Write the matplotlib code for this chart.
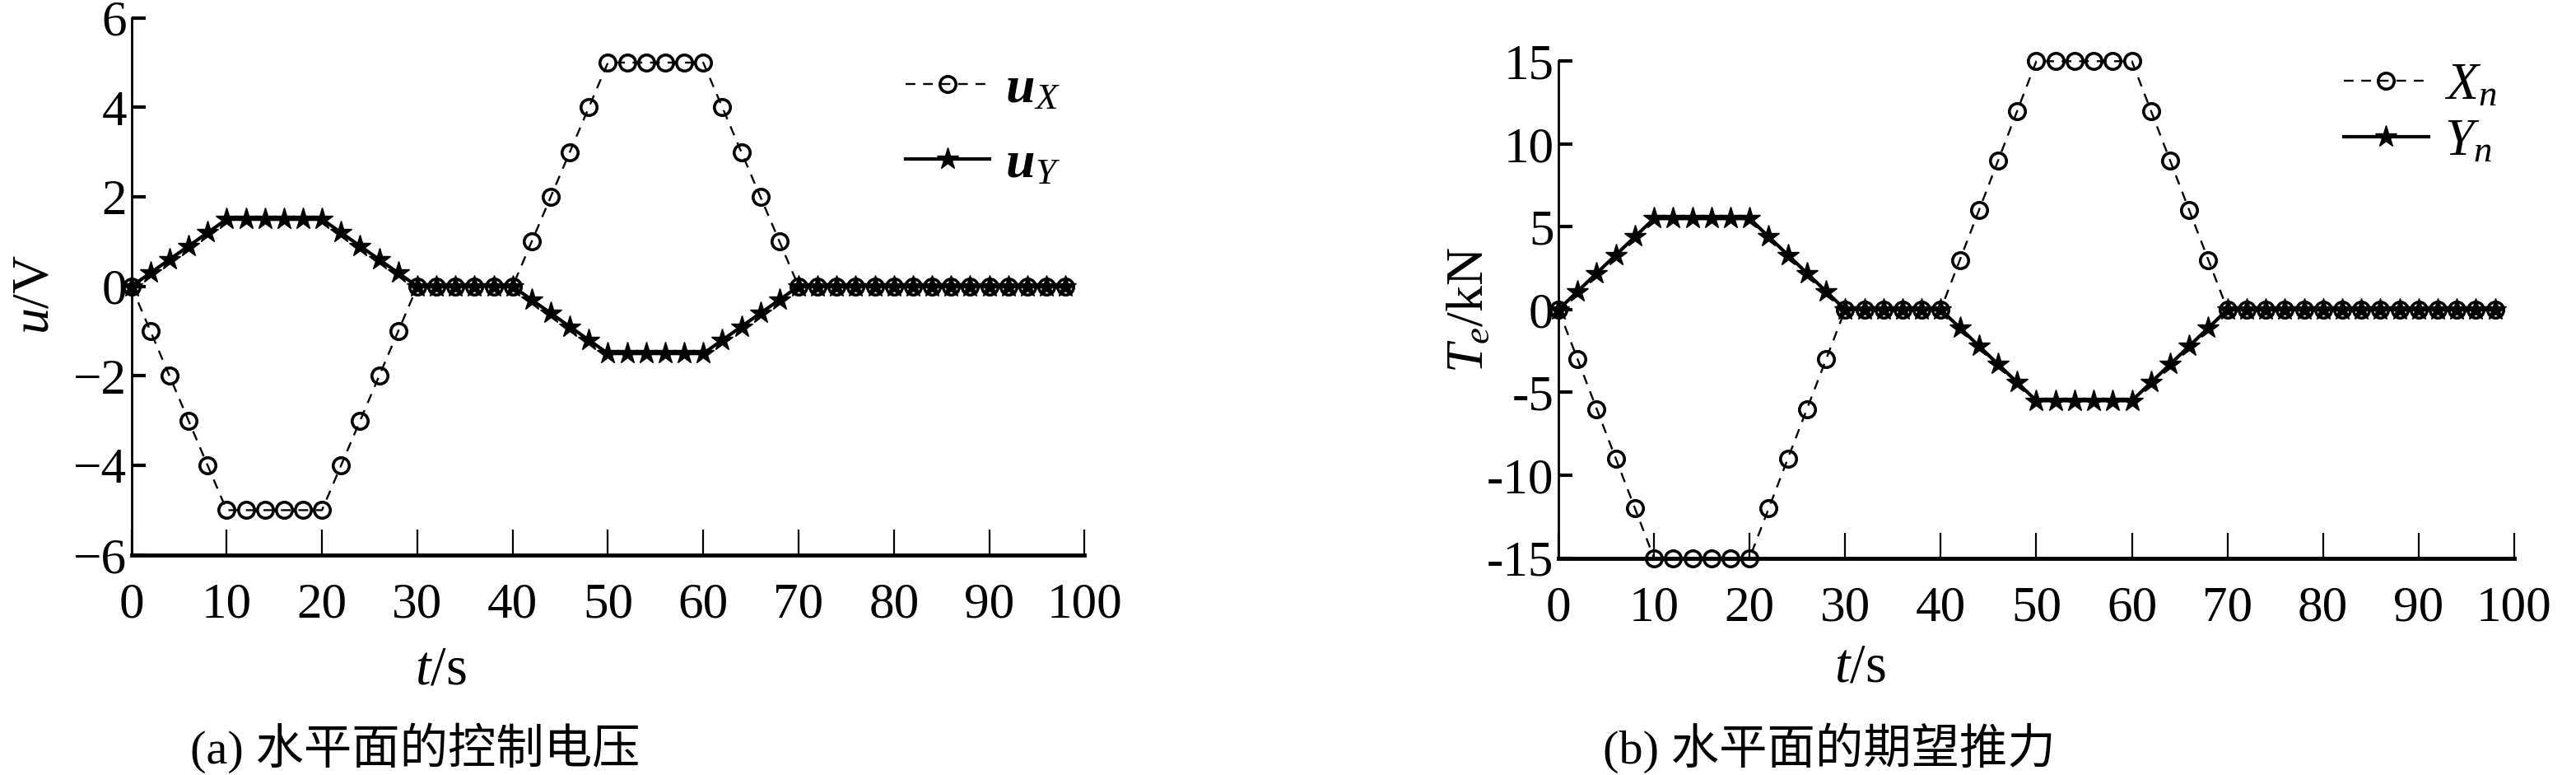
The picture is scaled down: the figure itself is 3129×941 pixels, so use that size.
import numpy as np
import matplotlib
matplotlib.use("Agg")
import matplotlib.pyplot as plt

plt.rcParams['font.family'] = ['Liberation Serif', 'Noto Sans CJK SC']
plt.rcParams['mathtext.fontset'] = 'custom'
plt.rcParams['mathtext.rm'] = 'Liberation Serif'
plt.rcParams['mathtext.it'] = 'Liberation Serif:italic'
plt.rcParams['mathtext.bf'] = 'Liberation Serif:bold:italic'

# time axis, one sample every 2 s
t = list(range(0, 100, 2))

# (a) control voltage, V
u_x = [0, -1, -2, -3, -4, -5, -5, -5, -5, -5, -5, -4, -3, -2, -1,
       0, 0, 0, 0, 0, 0, 1, 2, 3, 4, 5, 5, 5, 5, 5, 5, 4, 3, 2, 1,
       0, 0, 0, 0, 0, 0, 0, 0, 0, 0, 0, 0, 0, 0, 0]
u_y = [0, 0.3, 0.6, 0.9, 1.2, 1.5, 1.5, 1.5, 1.5, 1.5, 1.5, 1.2, 0.9, 0.6, 0.3,
       0, 0, 0, 0, 0, 0, -0.3, -0.6, -0.9, -1.2, -1.5, -1.5, -1.5, -1.5, -1.5, -1.5,
       -1.2, -0.9, -0.6, -0.3, 0, 0, 0, 0, 0, 0, 0, 0, 0, 0, 0, 0, 0, 0, 0]

# (b) desired thrust, kN
x_n = [0, -3, -6, -9, -12, -15, -15, -15, -15, -15, -15, -12, -9, -6, -3,
       0, 0, 0, 0, 0, 0, 3, 6, 9, 12, 15, 15, 15, 15, 15, 15, 12, 9, 6, 3,
       0, 0, 0, 0, 0, 0, 0, 0, 0, 0, 0, 0, 0, 0, 0]
y_n = [0, 1.1, 2.2, 3.3, 4.4, 5.5, 5.5, 5.5, 5.5, 5.5, 5.5, 4.4, 3.3, 2.2, 1.1,
       0, 0, 0, 0, 0, 0, -1.1, -2.2, -3.3, -4.4, -5.5, -5.5, -5.5, -5.5, -5.5, -5.5,
       -4.4, -3.3, -2.2, -1.1, 0, 0, 0, 0, 0, 0, 0, 0, 0, 0, 0, 0, 0, 0, 0]

xticks = list(range(0, 101, 10))
yticks_a = list(range(-6, 7, 2))
yticks_b = list(range(-15, 16, 5))

fig = plt.figure(figsize=(31.29, 9.41), dpi=100)
ax1 = fig.add_axes([0.051, 0.284, 0.370, 0.693])
ax2 = fig.add_axes([0.605, 0.280, 0.371, 0.641])


def style(ax, yticks, minus):
    ax.set_xlim(0, 100)
    ax.set_ylim(yticks[0], yticks[-1])
    ax.set_xticks(xticks)
    ax.set_yticks(yticks)
    ax.set_yticklabels([str(v).replace('-', minus) for v in yticks])
    ax.spines['top'].set_visible(False)
    ax.spines['right'].set_visible(False)
    ax.spines['bottom'].set_linewidth(3.5)
    ax.spines['left'].set_linewidth(2)
    ax.tick_params(axis='x', direction='in', length=22, width=1.6, labelsize=44, pad=24)
    ax.tick_params(axis='y', direction='in', length=12, width=3, labelsize=44, pad=4)


def draw(ax, a, b, la, lb):
    ax.plot(t, a, '--', color='black', lw=1.7, dashes=(5, 4), marker='o', ms=14,
            mfc='none', mec='black', mew=2.6, label=la, clip_on=False)
    ax.plot(t, b, '-', color='black', lw=3, marker='*', ms=20,
            mfc='black', mec='black', label=lb, clip_on=False)


draw(ax1, u_x, u_y, r'$\mathbf{u}_X$', r'$\mathbf{u}_Y$')
style(ax1, yticks_a, '\u2212')
ax1.legend(loc='upper left', bbox_to_anchor=(0.79, 0.95), frameon=False, fontsize=46,
           handlelength=1.6, handletextpad=0.3, labelspacing=0.5, borderaxespad=0)

draw(ax2, x_n, y_n, r'$X_n$', r'$Y_n$')
style(ax2, yticks_b, '-')
ax2.legend(loc='upper left', bbox_to_anchor=(0.80, 1.04), frameon=False, fontsize=46,
           handlelength=1.6, handletextpad=0.3, labelspacing=0.15, borderaxespad=0)

fig.text(0.014, 0.62, r'$u$/V', rotation=90, fontsize=46, ha='center', va='center')
fig.text(0.571, 0.60, r'$T_e$/kN', rotation=90, fontsize=46, ha='center', va='center')

fig.text(0.171, 0.135, r'$t$/s', fontsize=48, ha='center', va='center')
fig.text(0.722, 0.138, r'$t$/s', fontsize=48, ha='center', va='center')

fig.text(0.161, 0.035, '(a) 水平面的控制电压', fontsize=42, ha='center', va='center')
fig.text(0.710, 0.035, '(b) 水平面的期望推力', fontsize=42, ha='center', va='center')

fig.savefig('out.png', dpi=100)
